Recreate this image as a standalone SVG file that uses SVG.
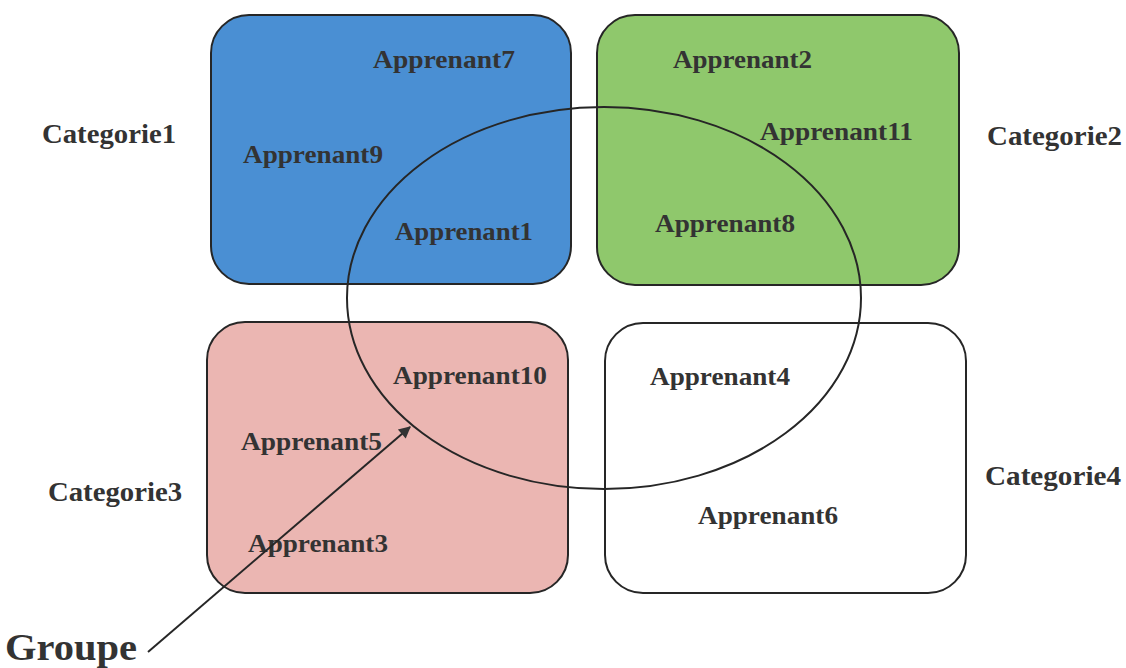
<svg xmlns="http://www.w3.org/2000/svg" width="1126" height="668" viewBox="0 0 1126 668">
<style>
.box{stroke:#262626;stroke-width:2}
.lbl{font-family:"Liberation Serif","Times New Roman",serif;font-weight:bold;font-size:25px;fill:#333}
.cat{font-family:"Liberation Serif","Times New Roman",serif;font-weight:bold;font-size:28px;fill:#333}
</style>
<defs>
<marker id="ahb" viewBox="0 0 10 10" refX="9" refY="5" markerWidth="14" markerHeight="12" markerUnits="userSpaceOnUse" orient="auto">
<path d="M0,0 L10,5 L0,10 z" fill="#333"/>
</marker>
</defs>
<rect width="1126" height="668" fill="#fff"/>
<g id="cat1">
<rect class="box" x="211" y="15" width="360" height="269" rx="38" fill="#4a8fd3"/>
<text class="lbl" x="373" y="68" textLength="142" lengthAdjust="spacingAndGlyphs">Apprenant7</text>
<text class="lbl" x="243" y="163" textLength="140" lengthAdjust="spacingAndGlyphs">Apprenant9</text>
<text class="lbl" x="395" y="240" textLength="138" lengthAdjust="spacingAndGlyphs">Apprenant1</text>
<text class="cat" x="42" y="143" textLength="134" lengthAdjust="spacingAndGlyphs">Categorie1</text>
</g>
<g id="cat2">
<rect class="box" x="597" y="15" width="362" height="270" rx="38" fill="#8fc86c"/>
<text class="lbl" x="673" y="68" textLength="139" lengthAdjust="spacingAndGlyphs">Apprenant2</text>
<text class="lbl" x="760" y="140" textLength="153" lengthAdjust="spacingAndGlyphs">Apprenant11</text>
<text class="lbl" x="655" y="232" textLength="140" lengthAdjust="spacingAndGlyphs">Apprenant8</text>
<text class="cat" x="987" y="145" textLength="135" lengthAdjust="spacingAndGlyphs">Categorie2</text>
</g>
<g id="cat3">
<rect class="box" x="207" y="322" width="361" height="271" rx="38" fill="#ebb6b2"/>
<text class="lbl" x="393" y="384" textLength="154" lengthAdjust="spacingAndGlyphs">Apprenant10</text>
<text class="lbl" x="241" y="450" textLength="141" lengthAdjust="spacingAndGlyphs">Apprenant5</text>
<text class="lbl" x="248" y="552" textLength="140" lengthAdjust="spacingAndGlyphs">Apprenant3</text>
<text class="cat" x="48" y="501" textLength="134" lengthAdjust="spacingAndGlyphs">Categorie3</text>
</g>
<g id="cat4">
<rect class="box" x="605" y="323" width="361" height="270" rx="38" fill="#fff"/>
<text class="lbl" x="650" y="385" textLength="140" lengthAdjust="spacingAndGlyphs">Apprenant4</text>
<text class="lbl" x="698" y="524" textLength="140" lengthAdjust="spacingAndGlyphs">Apprenant6</text>
<text class="cat" x="985" y="485" textLength="136" lengthAdjust="spacingAndGlyphs">Categorie4</text>
</g>
<g id="groupe">
<ellipse cx="604" cy="298" rx="257" ry="191" fill="none" stroke="#262626" stroke-width="2"/>
<text x="5" y="660" font-family="Liberation Serif,'Times New Roman',serif" font-weight="bold" font-size="38" fill="#333" textLength="132" lengthAdjust="spacingAndGlyphs">Groupe</text>
</g>
<g id="connectors">
<line x1="148" y1="652" x2="410" y2="427" stroke="#262626" stroke-width="2" marker-end="url(#ahb)"/>
</g>
</svg>
